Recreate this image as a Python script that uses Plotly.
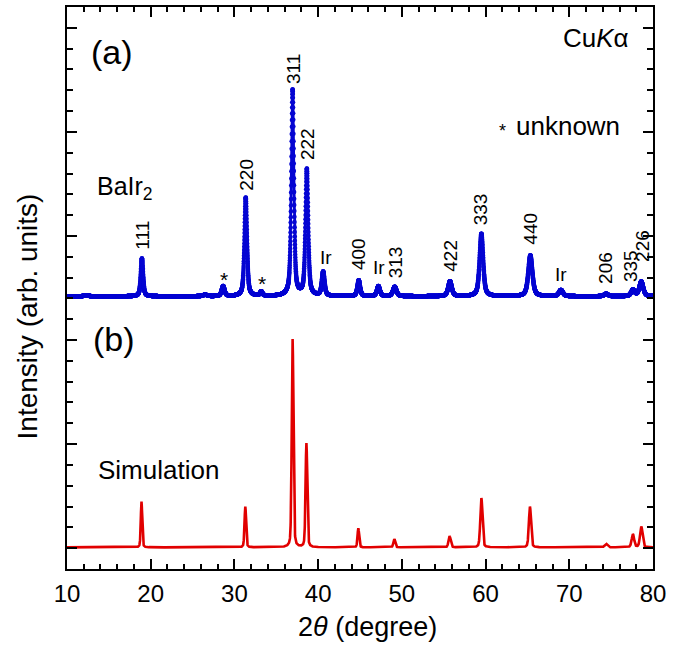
import numpy as np
import plotly.graph_objects as go

# ---------------- data ----------------
# 2-theta grid (degree)
two_theta = np.arange(10.0, 80.0001, 0.01)

# (a) measured BaIr2 pattern: peak positions, heights (arb.), widths (FWHM, deg)
meas_baseline = 13.1
meas_pos = [12.3, 26.5, 18.95, 28.65, 31.35, 33.2, 36.95, 38.65, 40.6, 44.85, 47.2,
            49.15, 55.75, 59.5, 65.35, 69.0, 74.4, 77.6, 78.6]
meas_height = [0.05, 0.07, 1.82, 0.48, 4.74, 0.2, 9.9, 6.07, 1.15, 0.76, 0.48,
               0.45, 0.72, 3.0, 1.96, 0.3, 0.12, 0.3, 0.7]
meas_width = [0.6, 0.6, 0.32, 0.4, 0.36, 0.35, 0.36, 0.38, 0.38, 0.38, 0.42,
              0.5, 0.5, 0.5, 0.58, 0.55, 0.55, 0.5, 0.55]

# (b) simulated pattern
sim_baseline = 1.04
sim_pos = [18.9, 31.3, 36.95, 38.6, 44.8, 49.1, 55.7, 59.5, 65.3, 74.4, 77.6, 78.6]
sim_height = [2.2, 1.96, 10.0, 5.0, 0.92, 0.4, 0.54, 2.37, 1.96, 0.17, 0.63, 1.0]
sim_width = [0.2, 0.22, 0.24, 0.24, 0.22, 0.25, 0.3, 0.3, 0.3, 0.4, 0.35, 0.35]

# peak labels (text, x, y-centre)
hkl_labels = ["111", "220", "311", "222", "400", "313", "422", "333", "440", "206", "335", "226"]
hkl_x = [19.0, 31.4, 37.0, 38.7, 44.9, 49.2, 55.8, 59.5, 65.4, 74.4, 77.25, 78.75]
hkl_y = [16.03, 18.95, 24.02, 20.43, 15.14, 14.74, 15.07, 17.3, 16.34, 14.47, 14.55, 15.5]
ir_x = [40.95, 47.3, 69.0]
ir_y = [14.95, 14.5, 14.14]
star_x = [28.7, 33.25]
star_y = [13.92, 13.73]


def pattern(x, base, pos, hgt, wid, eta=0.55):
    y = np.full_like(x, base)
    for p, h, w in zip(pos, hgt, wid):
        g = np.exp(-4 * np.log(2) * ((x - p) / w) ** 2)
        l = 1.0 / (1.0 + 4 * ((x - p) / w) ** 2)
        y = y + h * (eta * l + (1 - eta) * g)
    return y


y_meas = pattern(two_theta, meas_baseline, meas_pos, meas_height, meas_width)
y_sim = pattern(two_theta, sim_baseline, sim_pos, sim_height, sim_width, eta=0.3)

BLUE = "rgb(5,5,210)"
RED = "rgb(225,0,0)"
FONT = "Liberation Sans, Arial, Helvetica, sans-serif"

fig = go.Figure()
fig.add_trace(go.Scatter(x=two_theta, y=y_sim, mode="lines",
                         line=dict(color=RED, width=2.6), hoverinfo="skip"))
fig.add_trace(go.Scatter(x=two_theta, y=y_meas, mode="lines+markers",
                         line=dict(color=BLUE, width=2.8),
                         marker=dict(color=BLUE, size=4.5), hoverinfo="skip"))


def txt(x, y, t, size, xanchor="center", angle=0, ref=None):
    d = dict(x=x, y=y, text=t, showarrow=False, textangle=angle,
             xanchor=xanchor, yanchor="middle",
             font=dict(size=size, color="black", family=FONT))
    if ref == "paper":
        d.update(xref="paper", yref="paper")
    return d


ann = []
for t, x, y in zip(hkl_labels, hkl_x, hkl_y):
    ann.append(txt(x, y, t, 19, angle=-90))
for x, y in zip(ir_x, ir_y):
    ann.append(txt(x, y, "Ir", 19))
for x, y in zip(star_x, star_y):
    ann.append(txt(x, y, "*", 21))

ann += [
    txt(15.4, 24.83, "(a)", 34),
    txt(15.6, 11.03, "(b)", 34),
    txt(73.2, 25.5, "Cu<i>K</i>α", 26),
    txt(61.97, 21.05, "*", 18),
    txt(63.4, 21.3, "unknown", 26, xanchor="left"),
    txt(13.4, 18.3, "BaIr<sub>2</sub>", 25, xanchor="left"),
    txt(13.5, 4.74, "Simulation", 26, xanchor="left"),
    txt(0.512, -0.103, "2<i>θ</i> (degree)", 27, ref="paper"),
    txt(-0.0677, 0.45, "Intensity (arb. units)", 28, angle=-90, ref="paper"),
]

fig.update_layout(
    width=688, height=646,
    margin=dict(l=67, r=35, t=5, b=77),
    paper_bgcolor="white", plot_bgcolor="white",
    showlegend=False,
    annotations=ann,
    font=dict(family=FONT, color="black"),
)
fig.update_xaxes(range=[10, 80], tick0=10, dtick=10, ticks="inside", ticklen=10,
                 tickwidth=2, tickcolor="black", showline=True, linewidth=2,
                 linecolor="black", mirror="allticks", showgrid=False, zeroline=False,
                 tickfont=dict(size=24, family=FONT, color="black"),
                 ticklabelstandoff=2,
                 minor=dict(ticks="inside", ticklen=5, tickwidth=2, tickcolor="black",
                            dtick=2, tick0=10, showgrid=False))
fig.update_yaxes(range=[0, 27], tick0=1, dtick=5, ticks="inside", ticklen=10,
                 tickwidth=2, tickcolor="black", showline=True, linewidth=2,
                 linecolor="black", mirror="allticks", showgrid=False, zeroline=False,
                 showticklabels=False,
                 minor=dict(ticks="inside", ticklen=6, tickwidth=2, tickcolor="black",
                            dtick=1, tick0=0, showgrid=False))

fig.write_html("out.html")
